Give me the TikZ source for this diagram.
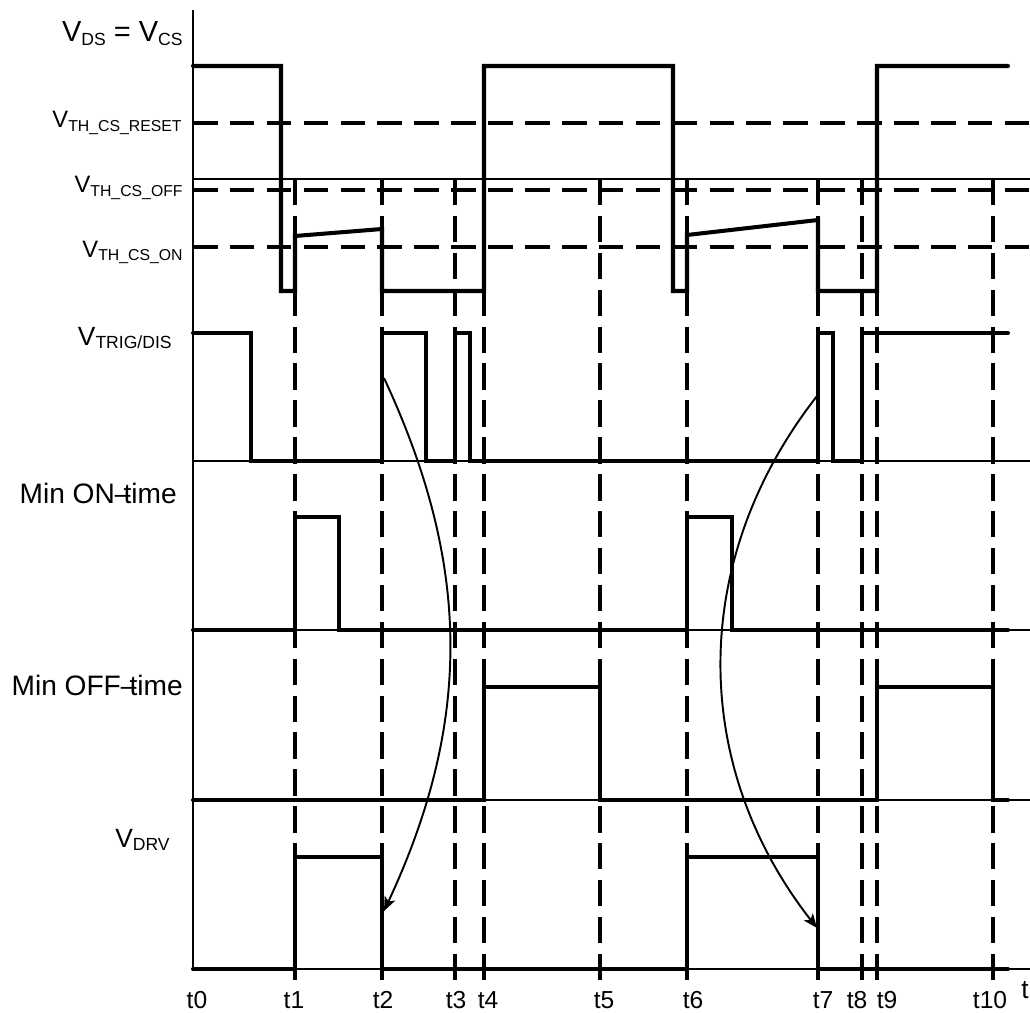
\documentclass[tikz,border=0pt]{standalone}
\usepackage{fontspec}
\setmainfont{Liberation Sans}
\usetikzlibrary{arrows.meta}
\newcommand{\lowsub}[2][9.5pt]{\raisebox{-2pt}{\fontsize{#1}{#1}\selectfont #2}}
\tikzset{
  sig/.style={line width=2.3pt,line cap=round,line join=miter},
  thr/.style={line width=1.8pt,dash pattern=on 14pt off 7pt},
  tln/.style={line width=1.8pt,dash pattern=on 15pt off 6pt},
  base/.style={line width=0.6pt},
  lbl/.style={anchor=base east,inner sep=0pt,font=\fontsize{15pt}{17pt}\selectfont},
  tlbl/.style={anchor=base,inner sep=0pt,font=\fontsize{14pt}{16pt}\selectfont},
  fl/.style={-{Stealth[length=8pt,width=6.5pt,inset=2pt]},line width=1.1pt},
}

\begin{document}
\begin{tikzpicture}[x=0.02cm,y=-0.02cm]
  \useasboundingbox (0,0) rectangle (1030,1013);
  % axis and baselines
  \draw[base] (193,10) -- (193,969);
  \foreach \y in {179,461,630,800,969}
    \draw[base] (193,\y) -- (1030,\y);
  % thresholds
  \foreach \y in {123,190,247}
    \draw[thr] (193,\y) -- (1030,\y);
  % time markers
  \foreach \x in {295,382,455,484,600,687,818,862,877,993}
    \draw[tln] (\x,179) -- (\x,982);
  \foreach \n/\lx in {t0/197,t1/294,t2/383,t3/456,t4/488,t5/604,t6/693,t7/823,t8/857,t9/887,t10/990}
    \node[tlbl] (l\n) at (\lx,1008) {\n};
  \node[tlbl,anchor=base west,font=\fontsize{15pt}{17pt}\selectfont] (taxis) at (1021,998) {t};

  % signal labels
  \node[lbl,font=\fontsize{16.5pt}{18pt}\selectfont] (vds) at (183,42) {V\lowsub[10pt]{DS} = V\lowsub[10pt]{CS}};
  \node[lbl,font=\fontsize{13.5pt}{16pt}\selectfont] (vrst) at (182,128) {V\lowsub[9pt]{TH\_CS\_RESET}};
  \node[lbl,font=\fontsize{13.5pt}{16pt}\selectfont] (voff) at (183,193) {V\lowsub[9pt]{TH\_CS\_OFF}};
  \node[lbl,font=\fontsize{13.5pt}{16pt}\selectfont] (von) at (183,257) {V\lowsub[9pt]{TH\_CS\_ON}};
  \node[lbl] (vtrig) at (172,345) {V\lowsub[10pt]{TRIG/DIS}};
  \node[lbl,font=\fontsize{16pt}{18pt}\selectfont] (minon) at (177,503) {Min ON--\kern-0.25em time};
  \node[lbl,font=\fontsize{16pt}{18pt}\selectfont] (minoff) at (183,695) {Min OFF--\kern-0.25em time};
  \node[lbl] (vdrv) at (170,847) {V\lowsub[10pt]{DRV}};

  % waveforms
  \draw[sig] (193,66) -| (281,291) -| (295,236) -- (382,229) |- (484,291)
    |- (673,66) |- (687,291) -- (687,235) -- (818,220) |- (877,291) |- (1008,66);
  \draw[sig] (193,333) -| (251,461) -| (382,333) -| (426,461) -| (455,333)
    -| (470,461) -| (818,333) -| (833,461) -| (862,333) -- (1008,333);
  \draw[sig] (193,630) -| (295,517) -| (339,630) -| (687,517) -| (732,630) -- (1008,630);
  \draw[sig] (193,800) -| (484,687) -| (600,800) -| (877,687) -| (993,800) -- (1008,800);
  \draw[sig] (193,969) -| (295,857) -| (382,969) -| (687,857) -| (818,969) -- (1008,969);

  % cause arrows
  \coordinate (trg2) at (384,378);
  \coordinate (drv2) at (384,911);
  \coordinate (trg7) at (817,396);
  \coordinate (drv7) at (817,928);
  \draw[fl] (trg2) to[bend left=25] (drv2);
  \draw[fl] (trg7) to[bend right=38] (drv7);
\end{tikzpicture}
\end{document}
